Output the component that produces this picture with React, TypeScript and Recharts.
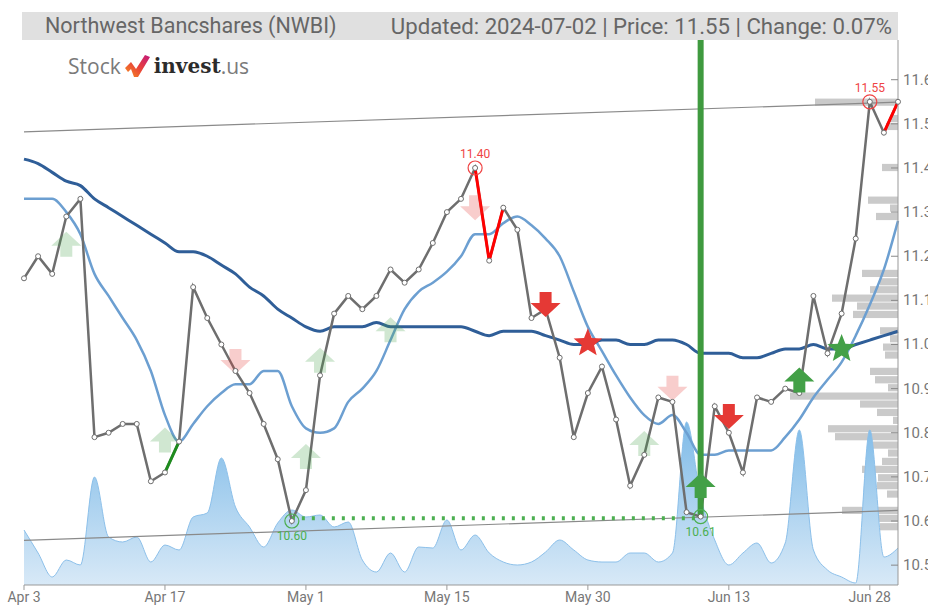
import React from 'react';
import { ComposedChart, BarChart, Bar, Line, Area, XAxis, YAxis, ReferenceLine, ReferenceDot } from 'recharts';

// trading days Apr 3 .. Jul 2 2024, x = day index
const tickIdx = [0, 10, 20, 30, 40, 50, 60];
const tickLabels = ['Apr 3', 'Apr 17', 'May 1', 'May 15', 'May 30', 'Jun 13', 'Jun 28'];
const priceTicks = [10.5, 10.6, 10.7, 10.8, 10.9, 11.0, 11.1, 11.2, 11.3, 11.4, 11.5, 11.6];

const close = [
  11.15, 11.2, 11.16, 11.29, 11.33, 10.79, 10.8, 10.82, 10.82, 10.69,
  10.71, 10.78, 11.13, 11.06, 11.0, 10.94, 10.89, 10.82, 10.74, 10.6,
  10.67, 10.93, 11.07, 11.11, 11.08, 11.11, 11.17, 11.14, 11.17, 11.23,
  11.3, 11.33, 11.4, 11.19, 11.31, 11.26, 11.06, 11.08, 10.97, 10.79,
  10.89, 10.95, 10.83, 10.68, 10.75, 10.88, 10.87, 10.62, 10.61, 10.86,
  10.8, 10.71, 10.88, 10.87, 10.9, 10.89, 11.11, 10.98, 11.07, 11.24,
  11.55, 11.48, 11.55,
];

const maLong = [
  11.42, 11.41, 11.39, 11.37, 11.36, 11.33, 11.31, 11.29, 11.27, 11.25,
  11.23, 11.21, 11.21, 11.2, 11.18, 11.16, 11.13, 11.11, 11.08, 11.06,
  11.04, 11.03, 11.04, 11.04, 11.04, 11.05, 11.04, 11.04, 11.04, 11.04,
  11.04, 11.04, 11.03, 11.02, 11.03, 11.03, 11.03, 11.02, 11.01, 11.0,
  11.0, 11.01, 11.01, 11.0, 11.0, 11.01, 11.01, 11.0, 10.98, 10.98,
  10.98, 10.97, 10.97, 10.98, 10.99, 10.99, 11.0, 10.99, 10.99, 11.0,
  11.01, 11.02, 11.03,
];

const maShort = [
  11.33, 11.33, 11.33, 11.3, 11.25, 11.16, 11.11, 11.06, 11.01, 10.94,
  10.84, 10.78, 10.82, 10.86, 10.89, 10.91, 10.91, 10.94, 10.94, 10.86,
  10.81, 10.8, 10.81, 10.87, 10.9, 10.94, 11.01, 11.08, 11.12, 11.14,
  11.165, 11.2, 11.25, 11.25, 11.275, 11.29, 11.27, 11.24, 11.2, 11.12,
  11.04, 10.985, 10.93, 10.88, 10.84, 10.82, 10.84, 10.8, 10.75, 10.75,
  10.76, 10.76, 10.76, 10.76, 10.79, 10.83, 10.88, 10.92, 10.96, 11.02,
  11.09, 11.17, 11.28,
];

// millions of shares
const volume = [
  0.55, 0.32, 0.08, 0.25, 0.2, 1.08, 0.48, 0.43, 0.48, 0.23,
  0.4, 0.35, 0.68, 0.72, 1.27, 0.78, 0.58, 0.38, 0.62, 0.75,
  0.68, 0.7, 0.58, 0.63, 0.25, 0.13, 0.32, 0.13, 0.38, 0.37,
  0.65, 0.35, 0.5, 0.32, 0.23, 0.2, 0.23, 0.33, 0.45, 0.35,
  0.25, 0.23, 0.23, 0.32, 0.32, 0.23, 0.32, 1.63, 0.88, 0.45,
  0.2, 0.32, 0.42, 0.22, 0.42, 1.55, 0.35, 0.15, 0.08, 0.02,
  1.55, 0.28, 0.37,
];

// volume by price level (bin centre price, relative volume)
const profilePrice = [
  10.586, 10.605, 10.623, 10.642, 10.66, 10.679, 10.697, 10.716, 10.734, 10.753,
  10.771, 10.79, 10.808, 10.827, 10.845, 10.864, 10.882, 10.901, 10.919, 10.938,
  10.956, 10.975, 10.993, 11.012, 11.03, 11.049, 11.067, 11.086, 11.104, 11.123,
  11.141, 11.16, 11.178, 11.197, 11.215, 11.234, 11.252, 11.271, 11.289, 11.308,
  11.326, 11.345, 11.363, 11.382, 11.4, 11.419, 11.437, 11.456, 11.474, 11.493,
  11.511, 11.53, 11.548,
];
const profileVol = [
  18, 25, 56, 0, 11, 21, 20, 36, 16, 10,
  26, 63, 70, 5, 21, 38, 108, 10, 23, 28,
  0, 13, 15, 8, 18, 0, 45, 41, 66, 28,
  18, 36, 0, 0, 0, 0, 0, 0, 22, 8,
  30, 0, 0, 0, 16, 0, 0, 0, 0, 12,
  8, 0, 83,
];

const redRuns = [[32, 34], [61, 62]];
const greenRuns = [[10, 11]];

const trendTop = [11.482, 11.549];
const trendBottom = [10.556, 10.624];
const supportLevel = 10.606;
const supportFrom = 19;
const supportTo = 48;
const signalIdx = 48;

const markIdx = [3, 10, 20, 21, 26, 44, 15, 32, 46, 37, 50, 48, 55, 40, 58];
const markPrice = [11.224, 10.78, 10.743, 10.961, 11.03, 10.772, 10.965, 11.313, 10.904, 11.094, 10.84, 10.677, 10.916, 11.003, 10.99];
const markKind = ['upSoft', 'upSoft', 'upSoft', 'upSoft', 'upSoft', 'upSoft', 'downSoft', 'downSoft', 'downSoft', 'down', 'down', 'up', 'up', 'starRed', 'starGreen'];

const circleIdx = [19, 48, 32, 60];
const circleKind = ['low', 'low', 'high', 'high'];

const Y_DOMAIN = [10.455, 11.69];

const inRuns = (i: number, runs: number[][]) => runs.some(([a, b]) => i >= a && i <= b);

const data = close.map((c, i) => ({
  i,
  close: c,
  maLong: maLong[i],
  maShort: maShort[i],
  vol: volume[i],
  red: inRuns(i, redRuns) ? c : null,
  green: inRuns(i, greenRuns) ? c : null,
}));

const profile = profilePrice.map((p, k) => ({ p, v: profileVol[k] }));

const GREEN = '#43a047';
const RED = '#e53935';

const arrowPath = (cx: number, cy: number, up: boolean) => {
  const hw = 15, hh = 14, sw = 6, sh = 11;
  const s = up ? 1 : -1;
  return `M${cx - hw},${cy} L${cx},${cy - s * hh} L${cx + hw},${cy} L${cx + sw},${cy} L${cx + sw},${cy + s * sh} L${cx - sw},${cy + s * sh} L${cx - sw},${cy} Z`;
};

const starPath = (cx: number, cy: number) => {
  const pts: string[] = [];
  for (let k = 0; k < 10; k++) {
    const r = k % 2 === 0 ? 15 : 6.5;
    const a = -Math.PI / 2 + (k * Math.PI) / 5;
    pts.push(`${cx + r * Math.cos(a)},${cy + r * Math.sin(a)}`);
  }
  return 'M' + pts.join(' L') + ' Z';
};

const Marker = (props: any) => {
  const { cx, cy, kind } = props;
  if (cx == null || cy == null) return null;
  switch (kind) {
    case 'upSoft':
      return <path d={arrowPath(cx, cy, true)} fill={GREEN} fillOpacity={0.25} />;
    case 'downSoft':
      return <path d={arrowPath(cx, cy, false)} fill={RED} fillOpacity={0.25} />;
    case 'up':
      return <path d={arrowPath(cx, cy, true)} fill={GREEN} />;
    case 'down':
      return <path d={arrowPath(cx, cy, false)} fill={RED} />;
    case 'starRed':
      return <path d={starPath(cx, cy)} fill={RED} />;
    default:
      return <path d={starPath(cx, cy)} fill={GREEN} />;
  }
};

const Circled = (props: any) => {
  const { cx, cy, kind, value } = props;
  if (cx == null || cy == null) return null;
  const col = kind === 'low' ? '#4caf50' : '#ef4444';
  return (
    <g>
      <circle cx={cx} cy={cy} r={7} fill="none" stroke={col} strokeWidth={1.2} />
      <text
        x={cx}
        y={kind === 'low' ? cy + 19 : cy - 10}
        textAnchor="middle"
        fontSize={12}
        fontFamily="Roboto, sans-serif"
        fill={col}
      >
        {value.toFixed(2)}
      </text>
    </g>
  );
};

const PriceTick = (props: any) => {
  const { x, y, payload } = props;
  return (
    <g>
      <line x1={x - 7} y1={y} x2={x} y2={y} stroke="#888" />
      <text x={x + 5} y={y + 5} fontSize={15} fill="#777" fontFamily="Roboto, sans-serif">
        {payload.value.toFixed(1)}
      </text>
    </g>
  );
};

// fixed-thickness horizontal bar centred on its price level
const ProfileBar = (props: any) => {
  const { x, y, width, height } = props;
  if (x == null || y == null || !width) return null;
  const left = Math.min(x, x + width);
  const mid = y + (height || 0) / 2;
  return <rect x={left} y={mid - 3.6} width={Math.abs(width)} height={7.2} fill="#c4c4c4" fillOpacity={0.9} />;
};

const Logo = () => (
  <div
    style={{
      position: 'absolute',
      left: 68,
      top: 52,
      display: 'flex',
      alignItems: 'center',
      fontSize: 21,
      lineHeight: '28px',
    }}
  >
    <span style={{ color: '#7a7a7a', fontFamily: '"Open Sans", sans-serif' }}>Stock</span>
    <svg width={28} height={24} viewBox="0 0 28 24" style={{ margin: '0 2px 0 3px' }}>
      <defs>
        <linearGradient id="logoGrad" x1="0" y1="1" x2="1" y2="0">
          <stop offset="0" stopColor="#f7931e" />
          <stop offset="0.5" stopColor="#e8413a" />
          <stop offset="1" stopColor="#c2187e" />
        </linearGradient>
      </defs>
      <path d="M1,14 L7,8 L12,15 L21,1 L26,3 L14,23 L10,23 L7,15 L4,18 Z" fill="url(#logoGrad)" />
    </svg>
    <span style={{ color: '#2b2b2b', fontFamily: '"DejaVu Serif", serif', fontWeight: 700, fontSize: 20 }}>invest</span>
    <span style={{ color: '#7a7a7a', fontFamily: '"Open Sans", sans-serif' }}>.us</span>
  </div>
);

const W = 928;
const H = 610;

export default function App() {
  return (
    <div style={{ position: 'absolute', left: 0, top: 0, width: W, height: H, background: '#fff', overflow: 'hidden' }}>
      <div
        style={{
          position: 'absolute',
          left: 22,
          top: 12,
          width: 876,
          height: 28,
          background: '#e0e0e0',
          color: '#666',
          fontFamily: 'Roboto, sans-serif',
          fontSize: 21.5,
          lineHeight: '28px',
          display: 'flex',
          justifyContent: 'space-between',
          padding: '0 6px 0 23px',
          boxSizing: 'border-box',
          whiteSpace: 'nowrap',
        }}
      >
        <span>Northwest Bancshares (NWBI)</span>
        <span style={{ fontSize: 22.2 }}>Updated: 2024-07-02 | Price: 11.55 | Change: 0.07%</span>
      </div>
      <Logo />

      <div style={{ position: 'absolute', left: 0, top: 0 }}>
        <BarChart
          width={W}
          height={H}
          data={profile}
          layout="vertical"
          margin={{ top: 40, right: 30, left: 24, bottom: 25 }}
          barCategoryGap={0}
        >
          <XAxis type="number" hide reversed domain={[0, 874]} allowDataOverflow />
          <YAxis type="number" dataKey="p" hide reversed domain={Y_DOMAIN} allowDataOverflow />
          <Bar dataKey="v" fill="#c4c4c4" barSize={7} shape={(p: any) => <ProfileBar {...p} />} isAnimationActive={false} />
        </BarChart>
      </div>

      <div style={{ position: 'absolute', left: 0, top: 0 }}>
        <ComposedChart width={W} height={H} data={data} margin={{ top: 40, right: 0, left: 24, bottom: 0 }}>
          <defs>
            <linearGradient id="volFill" x1="0" y1="0" x2="0" y2="1">
              <stop offset="0" stopColor="#7fbbe8" />
              <stop offset="1" stopColor="#d8e9f7" />
            </linearGradient>
          </defs>
          <XAxis
            type="number"
            dataKey="i"
            domain={[0, 62]}
            ticks={tickIdx}
            interval={0}
            tickFormatter={(v: number) => tickLabels[tickIdx.indexOf(v)] ?? ''}
            height={25}
            axisLine={{ stroke: '#999' }}
            tickLine={{ stroke: '#999' }}
            tickSize={5}
            tick={{ fontSize: 14, fill: '#777', fontFamily: 'Roboto, sans-serif' }}
          />
          <YAxis
            orientation="right"
            domain={Y_DOMAIN}
            ticks={priceTicks}
            width={30}
            axisLine={{ stroke: '#999' }}
            tickLine={false}
            tickSize={0}
            tickMargin={0}
            tick={<PriceTick />}
            allowDataOverflow
          />
          <YAxis yAxisId="vol" hide domain={[0, 5.45]} />

          <Area
            yAxisId="vol"
            type="monotone"
            dataKey="vol"
            stroke="#8cc0ea"
            strokeWidth={1}
            fill="url(#volFill)"
            fillOpacity={1}
            isAnimationActive={false}
          />

          <ReferenceLine
            segment={[{ x: 0, y: trendTop[0] }, { x: 62, y: trendTop[1] }]}
            stroke="#8a8a8a"
            strokeWidth={1.2}
          />
          <ReferenceLine
            segment={[{ x: 0, y: trendBottom[0] }, { x: 62, y: trendBottom[1] }]}
            stroke="#8a8a8a"
            strokeWidth={1.2}
          />

          {markIdx.map((mi, k) =>
            markKind[k].endsWith('Soft') ? (
              <ReferenceDot
                key={'s' + k}
                x={mi}
                y={markPrice[k]}
                r={1}
                shape={(p: any) => <Marker {...p} kind={markKind[k]} />}
              />
            ) : null
          )}

          <Line type="monotone" dataKey="maShort" stroke="#6c9fd1" strokeWidth={2.5} dot={false} isAnimationActive={false} />
          <Line type="monotone" dataKey="maLong" stroke="#2f5e98" strokeWidth={3} dot={false} isAnimationActive={false} />
          <Line type="linear" dataKey="close" stroke="#6e6e6e" strokeWidth={2.5} dot={false} isAnimationActive={false} />
          <Line type="linear" dataKey="red" stroke="#ff0000" strokeWidth={3} dot={false} isAnimationActive={false} />
          <Line type="linear" dataKey="green" stroke="#1e8c1e" strokeWidth={3} dot={false} isAnimationActive={false} />
          <Line
            type="linear"
            dataKey="close"
            stroke="none"
            dot={{ r: 2.5, fill: '#fff', stroke: '#6e6e6e', strokeWidth: 1 }}
            isAnimationActive={false}
          />

          <ReferenceLine
            segment={[{ x: supportFrom, y: supportLevel }, { x: supportTo, y: supportLevel }]}
            stroke="#4caf50"
            strokeWidth={4}
            strokeDasharray="3 7"
          />
          <ReferenceLine
            segment={[{ x: signalIdx, y: Y_DOMAIN[1] }, { x: signalIdx, y: close[signalIdx] }]}
            stroke="#3f9a3f"
            strokeWidth={6}
          />

          {circleIdx.map((ci, k) => (
            <ReferenceDot
              key={'c' + k}
              x={ci}
              y={close[ci]}
              r={7}
              shape={(p: any) => <Circled {...p} kind={circleKind[k]} value={close[ci]} />}
            />
          ))}

          {markIdx.map((mi, k) =>
            !markKind[k].endsWith('Soft') ? (
              <ReferenceDot
                key={'m' + k}
                x={mi}
                y={markPrice[k]}
                r={1}
                shape={(p: any) => <Marker {...p} kind={markKind[k]} />}
              />
            ) : null
          )}
        </ComposedChart>
      </div>
    </div>
  );
}
